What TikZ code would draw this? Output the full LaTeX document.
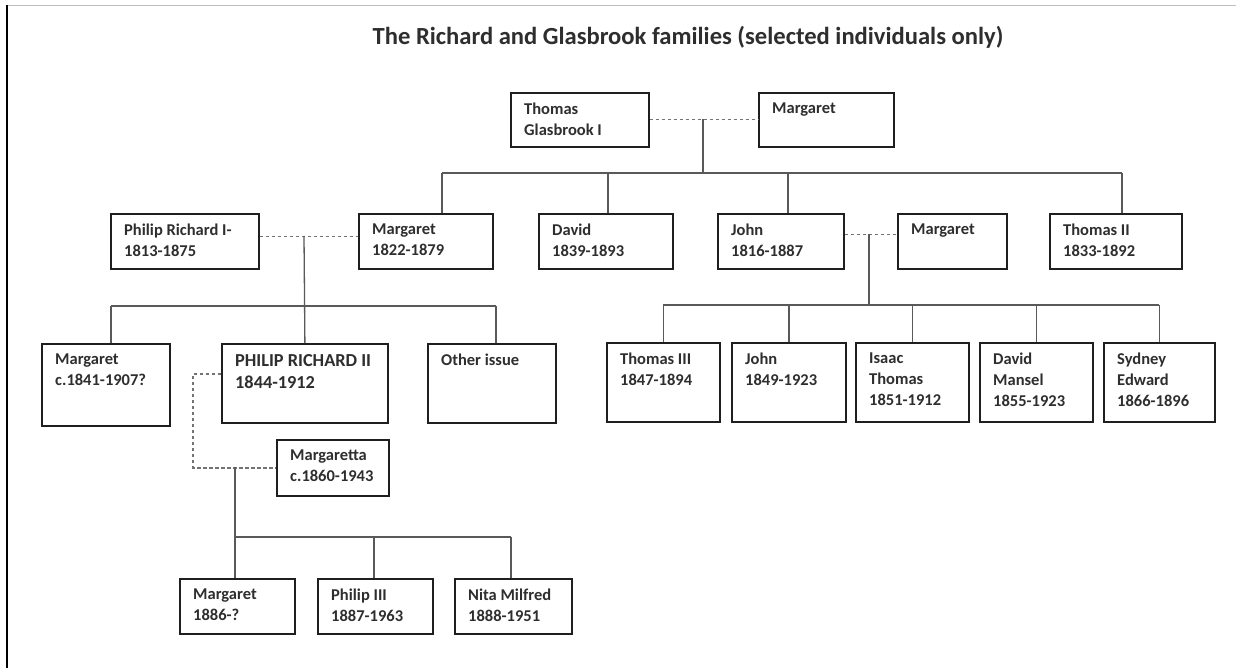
\documentclass[tikz,border=0pt]{standalone}
\usepackage{fontspec}
\setmainfont{Carlito}
\begin{document}
\begin{tikzpicture}[x=1pt,y=-1pt,
  box/.style={draw=black!88, line width=1.8pt, anchor=north west, inner sep=0pt},
  txt/.style={anchor=north west, align=left, inner sep=0pt, xshift=14pt, yshift=-11pt,
    font=\fontsize{16.5}{21}\selectfont\bfseries, text=black!82},
  bigtxt/.style={txt, font=\fontsize{18.3}{22}\selectfont\bfseries},
  con/.style={draw=black!65, line width=1.3pt},
  mar/.style={draw=black!55, line width=1.2pt, dash pattern=on 3.5pt off 2.5pt},
]
\useasboundingbox (0,0) rectangle (1237,668);
\fill[white] (0,0) rectangle (1237,668);
% frame lines
\draw[black!25, line width=1pt] (7,6) -- (1236,6);
\draw[black, line width=2.4pt] (7,5) -- (7,668);
% title
\node[anchor=base, font=\fontsize{24.6}{30}\selectfont\bfseries, text=black!82] (title) at (688,45)
  {The Richard and Glasbrook families (selected individuals only)};

% row 1
\node[box, minimum width=138, minimum height=54, label={[txt]north west:Thomas\\Glasbrook I}] (tg) at (510,92) {};
\node[box, minimum width=135, minimum height=54, label={[txt]north west:Margaret}] (mt) at (758,92) {};
% row 2
\node[box, minimum width=148, minimum height=55, label={[txt]north west:Philip Richard I-\\1813-1875}] (pr1) at (110,213) {};
\node[box, minimum width=134, minimum height=55, label={[txt]north west:Margaret\\1822-1879}] (m2) at (358,213) {};
\node[box, minimum width=134, minimum height=55, label={[txt]north west:David\\1839-1893}] (dv) at (538,213) {};
\node[box, minimum width=126, minimum height=55, label={[txt]north west:John\\1816-1887}] (jn) at (717,213) {};
\node[box, minimum width=109, minimum height=55, label={[txt]north west:Margaret}] (mj) at (897,213) {};
\node[box, minimum width=132, minimum height=55, label={[txt]north west:Thomas II\\1833-1892}] (t2) at (1049,213) {};
% row 3 left
\node[box, minimum width=128, minimum height=82, label={[txt]north west:Margaret\\c.1841-1907?}] (mc) at (41,343) {};
\node[box, minimum width=166, minimum height=79, label={[bigtxt]north west:PHILIP RICHARD II\\1844-1912}] (pr2) at (221,343) {};
\node[box, minimum width=128, minimum height=79, label={[txt]north west:Other issue}] (oi) at (427,343) {};
% row 3 right
\node[box, minimum width=113, minimum height=79, label={[txt]north west:Thomas III\\1847-1894}] (t3) at (606,342) {};
\node[box, minimum width=114, minimum height=79, label={[txt]north west:John\\1849-1923}] (j2) at (731,342) {};
\node[box, minimum width=113, minimum height=79, label={[txt]north west:Isaac\\Thomas\\1851-1912}] (it) at (855,342) {};
\node[box, minimum width=113, minimum height=79, label={[txt]north west:David\\Mansel\\1855-1923}] (dm) at (979,342) {};
\node[box, minimum width=111, minimum height=79, label={[txt]north west:Sydney\\Edward\\1866-1896}] (se) at (1103,342) {};
% row 4
\node[box, minimum width=112, minimum height=56, label={[txt]north west:Margaretta\\c.1860-1943}] (mg) at (276,439) {};
% row 5
\node[box, minimum width=115, minimum height=55, label={[txt]north west:Margaret\\1886-?}] (g1) at (179,578) {};
\node[box, minimum width=115, minimum height=55, label={[txt]north west:Philip III\\1887-1963}] (p3) at (317,578) {};
\node[box, minimum width=117, minimum height=55, label={[txt]north west:Nita Milfred\\1888-1951}] (nm) at (454,578) {};

% coordinates
\coordinate (c1) at (703,119);
\coordinate (b1) at (703,173);
\coordinate (bl1) at (442,173);
\coordinate (br1) at (1122,173);
\coordinate (c2) at (304,236);
\coordinate (bl2) at (111,306);
\coordinate (br2) at (496,306);
\coordinate (c3) at (869,234);
\coordinate (b3) at (869,305);
\coordinate (k1) at (193,420);
\coordinate (c4) at (235,467);
\coordinate (b4) at (235,537);
\coordinate (br4) at (511,537);

% top family
\draw[mar] (tg.east) -- (mt.west);
\draw[con] (c1) -- (b1);
\draw[con] (bl1) -- (br1);
\draw[con] (bl1) -- (bl1 |- m2.north);
\draw[con] ([xshift=2pt]dv.north |- b1) -- ([xshift=2pt]dv.north);
\draw[con] ([xshift=7pt]jn.north |- b1) -- ([xshift=7pt]jn.north);
\draw[con] (br1) -- (br1 |- t2.north);

% Philip Richard I family
\draw[mar] ([yshift=4.5pt]pr1.east) -- ([yshift=4.5pt]m2.west);
\draw[con] (c2) -- (pr2.north);
\draw[con] (bl2) -- (br2);
\draw[con] (bl2) -- (bl2 |- mc.north);
\draw[con] (br2) -- (br2 |- oi.north);

% John family
\draw[mar] ([yshift=6.5pt]jn.east) -- ([yshift=6.5pt]mj.west);
\draw[con] (c3) -- (b3);
\draw[con] (t3.north |- b3) -- (se.north |- b3);
\draw[con] (t3.north |- b3) -- (t3.north);
\draw[con] (j2.north |- b3) -- (j2.north);
\draw[con] (it.north |- b3) -- (it.north);
\draw[con] (dm.north |- b3) -- (dm.north);
\draw[con] (se.north |- b3) -- (se.north);

% Philip Richard II family
\draw[mar] ([yshift=9.5pt]pr2.west) -| (k1) |- (mg.west);
\draw[con] (c4) -- (c4 |- g1.north);
\draw[con] (b4) -- (br4);
\draw[con] ([xshift=-1.5pt]p3.north |- b4) -- ([xshift=-1.5pt]p3.north);
\draw[con] (br4) -- (br4 |- nm.north);
\end{tikzpicture}
\end{document}
